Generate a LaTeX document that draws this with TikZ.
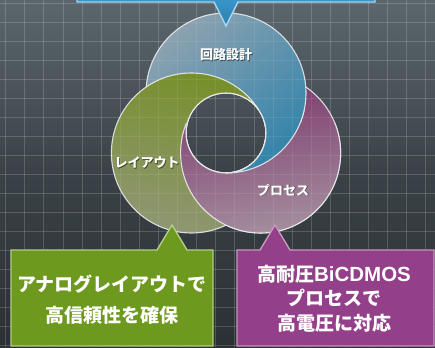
\documentclass[tikz,border=0pt]{standalone}
\usepackage{fontspec}
\newfontfamily\jp{Noto Sans CJK JP}
\newfontfamily\lat{Liberation Sans}
\definecolor{bgtop}{HTML}{5B666D}
\definecolor{bgmid}{HTML}{3A4247}
\definecolor{bgbot}{HTML}{2B3034}
\definecolor{blueA}{HTML}{8CA2B0}
\definecolor{blueB}{HTML}{3484AA}
\definecolor{greenA}{HTML}{76902A}
\definecolor{greenB}{HTML}{8F9672}
\definecolor{magA}{HTML}{7A366C}
\definecolor{magB}{HTML}{A48D9D}
\definecolor{topfill}{HTML}{3C9DD6}
\definecolor{topedge}{HTML}{A6D6F0}
\definecolor{gfill}{HTML}{6D991E}
\definecolor{gedge}{HTML}{B3CC86}
\definecolor{mfill}{HTML}{933F89}
\definecolor{medge}{HTML}{C895BF}
\tikzset{
  gridline/.style={white, opacity=0.17, line width=0.9pt},
  ring/.style={even odd rule, draw=white!88!gray, draw opacity=0.85, line width=1.1pt},
  bluering/.style={ring, top color=blueA, bottom color=blueB, shading angle=40},
  greenring/.style={ring, top color=greenA, bottom color=greenB, shading angle=-15},
  magring/.style={ring, left color=magA, right color=magB, shading angle=10},
  ringlabel/.style={text=white, font=\jp\bfseries\fontsize{13}{13}\selectfont, inner sep=0pt},
  shadowlabel/.style={ringlabel, text=black, text opacity=0.55},
  callout/.style={line width=1.4pt, line join=miter},
  boxtext/.style={text=white, align=center, inner sep=0pt}
}
\begin{document}
\begin{tikzpicture}[x=1pt,y=-1pt]
\useasboundingbox (0,0) rectangle (435,347);
% background
\shade[top color=bgtop, bottom color=bgbot, middle color=bgmid] (0,0) rectangle (435,347);
\foreach \i in {0,...,22} \draw[gridline] ({5.7+19.1*\i},0) -- ({5.7+19.1*\i},347);
\foreach \i in {0,...,18} \draw[gridline] (0,{3.3+19*\i}) -- (435,{3.3+19*\i});
% ring centres
\coordinate (hc) at (226,133);
\coordinate (bc) at (226,93);
\coordinate (gc) at (191.4,153);
\coordinate (mc) at (260.6,153);
% rings, drawn in a swirl order
\path[magring] (mc) circle[radius=80pt] (hc) circle[radius=40pt];
\path[bluering] (bc) circle[radius=80pt] (hc) circle[radius=40pt];
\path[greenring] (gc) circle[radius=80pt] (hc) circle[radius=40pt];
\begin{scope}
  \clip (0,124) rectangle (435,347);
  \path[magring] (mc) circle[radius=80pt] (hc) circle[radius=40pt];
\end{scope}
\begin{scope}
  \clip (226,110) rectangle (435,347);
  \path[bluering] (bc) circle[radius=80pt] (hc) circle[radius=40pt];
\end{scope}
% faint grid seen through the rings
\begin{scope}
  \clip (bc) circle[radius=80pt] (gc) circle[radius=80pt] (mc) circle[radius=80pt];
  \begin{scope}[even odd rule]
    \clip (0,0) rectangle (435,347) (hc) circle[radius=40pt];
    \foreach \i in {0,...,22} \draw[white, opacity=0.08, line width=0.9pt] ({5.7+19.1*\i},0) -- ({5.7+19.1*\i},347);
    \foreach \i in {0,...,18} \draw[white, opacity=0.08, line width=0.9pt] (0,{3.3+19*\i}) -- (435,{3.3+19*\i});
  \end{scope}
\end{scope}
% ring labels
\node[shadowlabel] at (226.8,55.8) {回路設計};
\node[ringlabel] (lb) at (226,55) {回路設計};
\node[shadowlabel] at (147.8,163.8) {レイアウト};
\node[ringlabel] (lg) at (147,163) {レイアウト};
\node[shadowlabel] at (283.8,190.8) {プロセス};
\node[ringlabel] (lm) at (283,190) {プロセス};
% top callout
\path[callout, draw=topedge, top color=topfill, bottom color=topfill!80!black]
  (77,-10) -- (77,2) -- (214,2) -- (226,26) -- (238,2) -- (375,2) -- (375,-10) -- cycle;
% bottom callouts
\path[callout, draw=gedge, fill=gfill]
  (11,250) -- (157,250) -- (172,225) -- (187,250) -- (213,250) -- (213,346) -- (11,346) -- cycle;
\path[callout, draw=medge, fill=mfill]
  (237,250) -- (260,250) -- (275,225) -- (290,250) -- (434,250) -- (434,346) -- (237,346) -- cycle;
\node[boxtext, font=\jp\bfseries\fontsize{19}{31}\selectfont] (tg) at (112,300) {アナログレイアウトで\\高信頼性を確保};
\node[boxtext, font=\jp\bfseries\fontsize{19}{24.5}\selectfont] (tm) at (334,298.5)
  {高耐圧{\lat\bfseries\fontsize{20.5}{24.5}\selectfont BiCDMOS}\\プロセスで\\高電圧に対応};
\end{tikzpicture}
\end{document}
